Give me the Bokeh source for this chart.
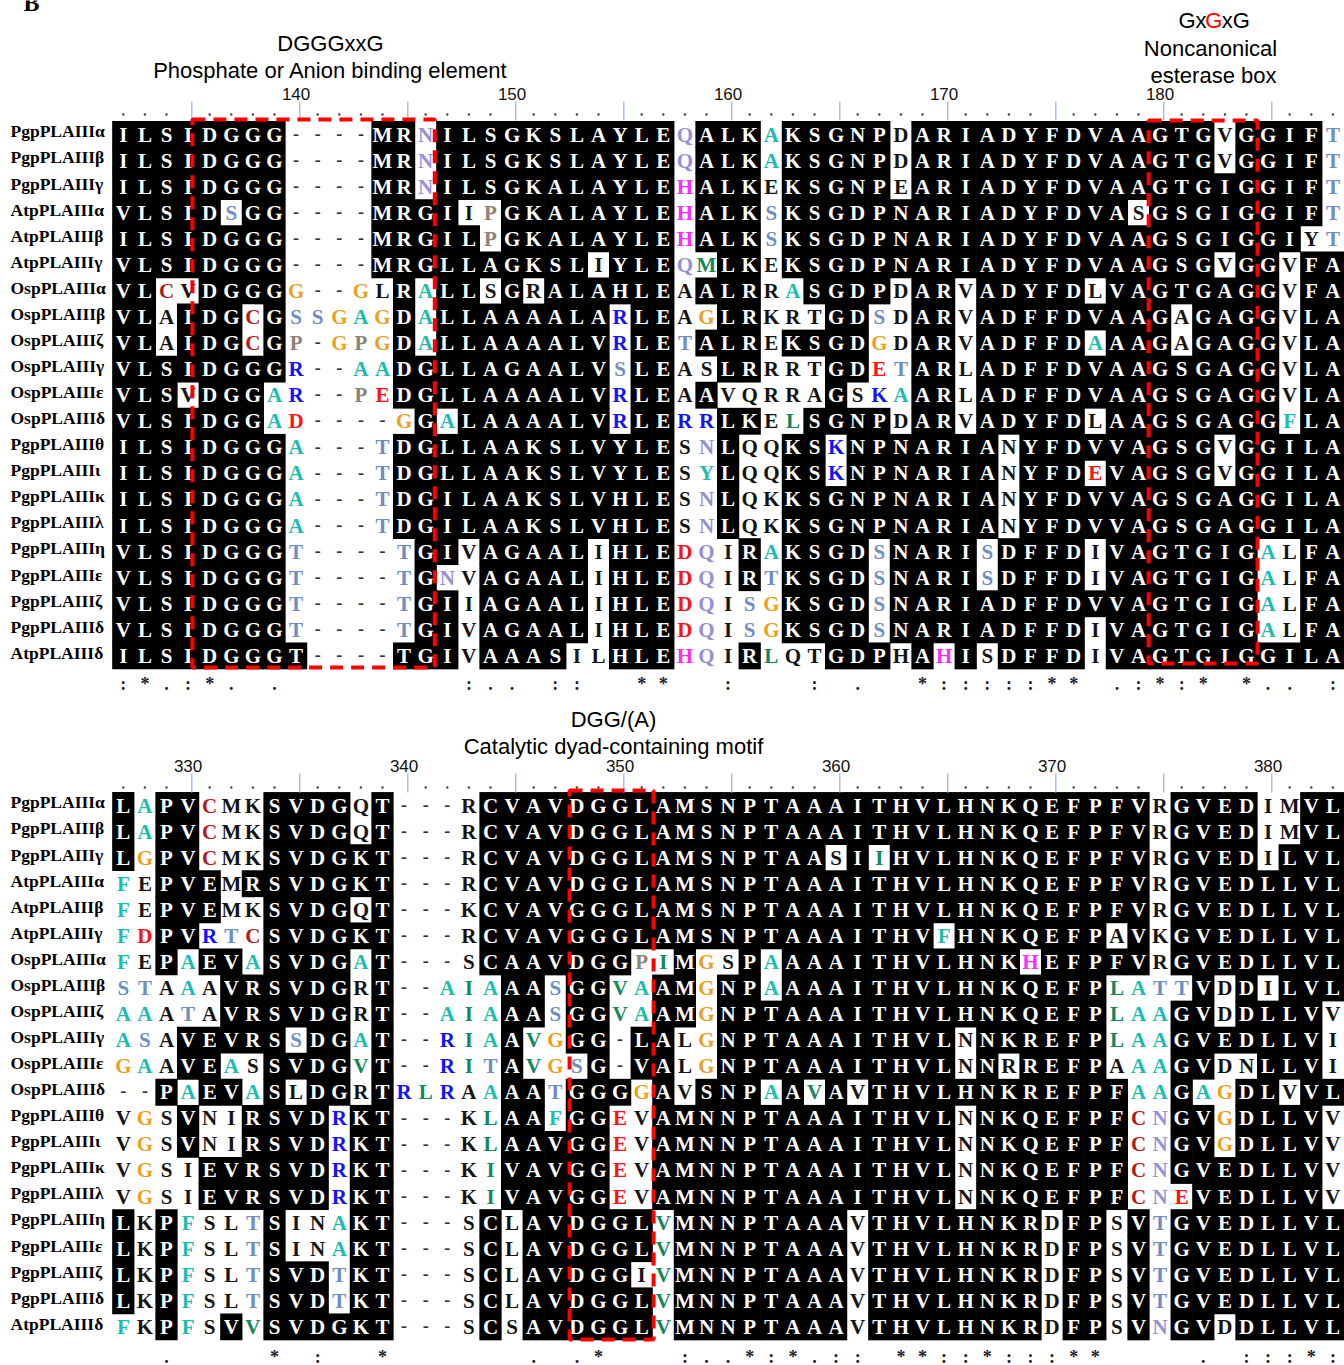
from bokeh.plotting import figure
from bokeh.models import ColumnDataSource, Range1d
from bokeh.core.properties import value
from bokeh.embed import file_html
from bokeh.resources import INLINE

# ---------------- data ----------------
names = ["PgpPLAIIIα", "PgpPLAIIIβ", "PgpPLAIIIγ", "AtpPLAIIIα", "AtpPLAIIIβ", "AtpPLAIIIγ",
         "OspPLAIIIα", "OspPLAIIIβ", "OspPLAIIIζ", "OspPLAIIIγ", "OspPLAIIIε", "OspPLAIIIδ",
         "PgpPLAIIIθ", "PgpPLAIIIι", "PgpPLAIIIκ", "PgpPLAIIIλ", "PgpPLAIIIη", "PgpPLAIIIε",
         "PgpPLAIIIζ", "PgpPLAIIIδ", "AtpPLAIIIδ"]

top_first_pos = 132
bottom_first_pos = 327
top_ticks = [140, 150, 160, 170, 180]
bottom_ticks = [330, 340, 350, 360, 370, 380]

top_seqs = [
    "ILSIDGGG----MRNILSGKSLAYLEQALKAKSGNPDARIADYFDVAAGTGVGGIFT",
    "ILSIDGGG----MRNILSGKSLAYLEQALKAKSGNPDARIADYFDVAAGTGVGGIFT",
    "ILSIDGGG----MRNILSGKALAYLEHALKEKSGNPEARIADYFDVAAGTGIGGIFT",
    "VLSIDSGG----MRGIIPGKALAYLEHALKSKSGDPNARIADYFDVASGSGIGGIFT",
    "ILSIDGGG----MRGILPGKALAYLEHALKSKSGDPNARIADYFDVAAGSGIGGIYT",
    "VLSIDGGG----MRGLLAGKSLIYLEQMLKEKSGDPNARIADYFDVAAGSGVGGVFA",
    "VLCVDGGGG--GLRALLSGRALAHLEAALRRASGDPDARVADYFDLVAGTGAGGVFA",
    "VLAIDGCGSSGAGDALLAAAALARLEAGLRKRTGDSDARVADFFDVAAGAGAGGVLA",
    "VLAIDGCGP-GPGDALLAAAALVRLETALREKSGDGDARVADFFDAAAGAGAGGVLA",
    "VLSIDGGGR--AADGLLAGAALVSLEASLRRRTGDETARLADFFDVAAGSGAGGVLA",
    "VLSVDGGAR--PEDGLLAAAALVRLEAAVQRRAGSKAARLADFFDVAAGSGAGGVLA",
    "VLSIDGGAD----GGALAAAALVRLERRLKELSGNPDARVADYFDLAAGSGAGGFLA",
    "ILSIDGGGA---TDGLLAAKSLVYLESNLQQKSKNPNARIANYFDVVAGSGVGGILA",
    "ILSIDGGGA---TDGLLAAKSLVYLESYLQQKSKNPNARIANYFDEVAGSGVGGILA",
    "ILSIDGGGA---TDGILAAKSLVHLESNLQKKSGNPNARIANYFDVVAGSGAGGILA",
    "ILSIDGGGA---TDGILAAKSLVHLESNLQKKSGNPNARIANYFDVVAGSGAGGILA",
    "VLSIDGGGT----TGIVAGAALIHLEDQIRAKSGDSNARISDFFDIVAGTGIGALFA",
    "VLSIDGGGT----TGNVAGAALIHLEDQIRTKSGDSNARISDFFDIVAGTGIGALFA",
    "VLSIDGGGT----TGIIAGAALIHLEDQISGKSGDSNARIADFFDVVAGTGIGALFA",
    "VLSIDGGGT----TGIVAGAALIHLEDQISGKSGDSNARIADFFDIVAGTGIGALFA",
    "ILSIDGGGT----TGIVAAASILHLEHQIRLQTGDPHAHISDFFDIVAGTGIGGILA",
]

# shading class per column: '#' = black box, otherwise letter colour class on white
top_shade = [
    "0-7# 8-11. 12-13# 14p 15-25# 26p 27-29# 30c 31-35# 36. 37-50# 51. 52-55# 56s",
    "0-7# 8-11. 12-13# 14p 15-25# 26p 27-29# 30c 31-35# 36. 37-50# 51. 52-55# 56s",
    "0-7# 8-11. 12-13# 14p 15-25# 26m 27-29# 30. 31-35# 36. 37-55# 56s",
    "0-4# 5s 6-7# 8-11. 12-15# 16. 17y 18-25# 26m 27-29# 30s 31-46# 47. 48-55# 56s",
    "0-7# 8-11. 12-16# 17y 18-25# 26m 27-29# 30s 31-54# 55. 56s",
    "0-7# 8-11. 12-21# 22. 23-25# 26p 27g 28-29# 30. 31-50# 51. 52-53# 54. 55-56#",
    "0-1# 2d 3. 4-7# 8o 9-10. 11o 12. 13# 14c 15-16# 17. 18# 19. 20-25# 26. 27-29# 30. 31c 32-35# 36. 37-38# 39. 40-44# 45. 46-53# 54. 55-56#",
    "0-1# 2. 3-5# 6d 7# 8s 9s 10o 11c 12o 13# 14c 15-22# 23b 24-25# 26. 27o 28-29# 30-32. 33-34# 35s 36. 37-38# 39. 40-48# 49. 50-53# 54. 55-56#",
    "0-1# 2. 3-5# 6d 7# 8y 9. 10o 11y 12o 13# 14c 15-22# 23b 24-25# 26s 27-29# 30. 31-34# 35o 36. 37-38# 39. 40-44# 45c 46-48# 49. 50-53# 54. 55-56#",
    "0-7# 8b 9-10. 11c 12c 13-22# 23s 24-25# 26. 27. 28-29# 30-32. 33-34# 35r 36s 37-38# 39. 40-53# 54. 55-56#",
    "0-2# 3. 4-6# 7c 8b 9-10. 11y 12r 13-22# 23b 24-25# 26. 27# 28-32. 33# 34. 35b 36c 37-38# 39. 40-53# 54. 55-56#",
    "0-6# 7c 8r 9-12. 13o 14# 15c 16-22# 23b 24-25# 26b 27b 28-29# 30. 31g 32-35# 36. 37-38# 39. 40-44# 45. 46-53# 54c 55-56#",
    "0-7# 8c 9-11. 12s 13-25# 26. 27p 28# 29-30. 31-32# 33b 34-40# 41. 42-50# 51. 52-56#",
    "0-7# 8c 9-11. 12s 13-25# 26. 27c 28# 29-30. 31-32# 33b 34-40# 41. 42-44# 45r 46-50# 51. 52-56#",
    "0-7# 8c 9-11. 12s 13-25# 26. 27p 28# 29-30. 31-40# 41. 42-56#",
    "0-7# 8c 9-11. 12s 13-25# 26. 27p 28# 29-30. 31-40# 41. 42-56#",
    "0-7# 8s 9-12. 13s 14-15# 16. 17-21# 22. 23-25# 26r 27p 28. 29# 30c 31-34# 35s 36-39# 40s 41-44# 45. 46-52# 53c 54. 55-56#",
    "0-7# 8s 9-12. 13s 14# 15p 16. 17-21# 22. 23-25# 26r 27p 28. 29# 30s 31-34# 35s 36-39# 40s 41-44# 45. 46-52# 53c 54. 55-56#",
    "0-7# 8s 9-12. 13s 14-15# 16. 17-21# 22. 23-25# 26r 27p 28. 29s 30o 31-34# 35s 36-52# 53c 54. 55-56#",
    "0-7# 8s 9-12. 13s 14-15# 16. 17-21# 22. 23-25# 26r 27p 28. 29s 30o 31-34# 35s 36-44# 45. 46-52# 53c 54. 55-56#",
    "0-15# 16. 17-20# 21-22. 23-25# 26m 27p 28. 29# 30g 31-32. 33-35# 36. 37# 38m 39# 40. 41-44# 45. 46-56#",
]

bottom_seqs = [
    "LAPVCMKSVDGQT---RCVAVDGGLAMSNPTAAAITHVLHNKQEFPFVRGVEDIMVL",
    "LAPVCMKSVDGQT---RCVAVDGGLAMSNPTAAAITHVLHNKQEFPFVRGVEDIMVL",
    "LGPVCMKSVDGKT---RCVAVDGGLAMSNPTAASIIHVLHNKQEFPFVRGVEDILVL",
    "FEPVEMRSVDGKT---RCVAVDGGLAMSNPTAAAITHVLHNKQEFPFVRGVEDLLVL",
    "FEPVEMKSVDGQT---KCVAVGGGLAMSNPTAAAITHVLHNKQEFPFVRGVEDLLVL",
    "FDPVRTCSVDGKT---RCVAVGGGLAMSNPTAAAITHVFHNKQEFPAVKGVEDLLVL",
    "FEPAEVASVDGAT---SCAAVDGGPIMGSPAAAAITHVLHNKHEFPFVRGVEDLLVL",
    "STAAAVRSVDGRT--AIAAASGGVAAMGNPAAAAITHVLHNKQEFPLATTVDDILVL",
    "AAATAVRSVDGRT--AIAAASGGVAAMGNPTAAAITHVLHNKQEFPLAAGVDDLLVV",
    "ASAVEVRSSDGAT--RIAAVGGG-LALGNPTAAAITHVLNNKREFPLAAGVEDLLVI",
    "GAAVEASSVDGVT--RITAVGSG-VALGNPTAAAITHVLNNRREFPAAAGVDNLLVI",
    "--PAEVASLDGRTRLRAAAATGGGGAVSNPAAVAVTHVLHNKREFPFAAGAGDLVVL",
    "VGSVNIRSVDRKT---KLAAFGGEVAMNNPTAAAITHVLNNKQEFPFCNGVGDLLVV",
    "VGSVNIRSVDRKT---KLAAVGGEVAMNNPTAAAITHVLNNKQEFPFCNGVGDLLVV",
    "VGSIEVRSVDRKT---KIVAVGGEVAMNNPTAAAITHVLNNKQEFPFCNGVEDLLVV",
    "VGSIEVRSVDRKT---KIVAVGGEVAMNNPTAAAITHVLNNKQEFPFCNEVEDLLVV",
    "LKPFSLTSINAKT---SCLAVDGGLVMNNPTAAAVTHVLHNKRDFPSVTGVEDLLVL",
    "LKPFSLTSINAKT---SCLAVDGGLVMNNPTAAAVTHVLHNKRDFPSVTGVEDLLVL",
    "LKPFSLTSVDTKT---SCLAVDGGIVMNNPTAAAVTHVLHNKRDFPSVTGVEDLLVL",
    "LKPFSLTSVDTKT---SCLAVDGGLVMNNPTAAAVTHVLHNKRDFPSVTGVEDLLVL",
    "FKPFSVVSVDGKT---SCSAVDGGLVMNNPTAAAVTHVLHNKRDFPSVNGVDDLLVL",
]

bottom_shade = [
    "0# 1c 2-3# 4d 5-6. 7-10# 11. 12# 13-16. 17-47# 48. 49-52# 53-54. 55-56#",
    "0# 1c 2-3# 4d 5-6. 7-10# 11. 12# 13-16. 17-47# 48. 49-52# 53-54. 55-56#",
    "0# 1o 2-3# 4d 5-6. 7-12# 13-16. 17-32# 33. 34# 35g 36-47# 48. 49-52# 53. 54-56#",
    "0c 1. 2-4# 5. 6-12# 13-16. 17-47# 48. 49-56#",
    "0c 1. 2-4# 5-6. 7-10# 11. 12# 13-16. 17-47# 48. 49-56#",
    "0c 1r 2-3# 4b 5s 6d 7-12# 13-16. 17-37# 38c 39-45# 46. 47# 48. 49-56#",
    "0c 1. 2# 3c 4-5# 6c 7-10# 11c 12# 13-16. 17-23# 24y 25g 26# 27o 28. 29# 30c 31-41# 42m 43-47# 48. 49-56#",
    "0s 1s 2. 3c 4. 5-10# 11. 12# 13-14. 15c 16g 17c 18-19# 20s 21-22# 23g 24c 25-26# 27o 28-29# 30c 31-45# 46g 47c 48-49s 50# 51. 52# 53. 54-56#",
    "0-1c 2. 3s 4. 5-10# 11. 12# 13-14. 15c 16g 17c 18-19# 20s 21-22# 23g 24c 25-26# 27o 28-45# 46g 47-48c 49-50# 51. 52-55# 56.",
    "0c 1s 2. 3-7# 8s 9-10# 11c 12# 13-14. 15b 16g 17c 18# 19g 20o 21-22# 23. 24-25# 26. 27o 28-38# 39. 40-45# 46g 47-48c 49-55# 56.",
    "0o 1c 2. 3-4# 5c 6. 7-10# 11g 12# 13-14. 15b 16g 17s 18# 19g 20o 21s 22# 23. 24-25# 26. 27o 28-38# 39. 40# 41. 42-45# 46. 47-48c 49-50# 51-52. 53-55# 56.",
    "0-1. 2# 3c 4-5# 6c 7# 8. 9-10# 11. 12# 13b 14g 15b 16. 17c 18-19# 20s 21-23# 24o 25# 26. 27-29# 30c 31# 32g 33# 34. 35-46# 47-48c 49# 50c 51o 52-53# 54. 55-56#",
    "0. 1o 2. 3# 4-5. 6-9# 10b 11-12# 13-16. 17g 18-19# 20c 21-22# 23r 24. 25-38# 39. 40-46# 47d 48p 49-50# 51o 52-55# 56.",
    "0. 1o 2. 3# 4-5. 6-9# 10b 11-12# 13-16. 17g 18-22# 23r 24. 25-38# 39. 40-46# 47d 48p 49-50# 51o 52-55# 56.",
    "0. 1o 2-3. 4-9# 10b 11-12# 13-16. 17g 18-22# 23r 24. 25-38# 39. 40-46# 47d 48p 49-55# 56.",
    "0. 1o 2-3. 4-9# 10b 11-12# 13-16. 17g 18-22# 23r 24. 25-38# 39. 40-46# 47d 48p 49r 50-55# 56.",
    "0# 1. 2# 3c 4-5. 6s 7# 8-9. 10c 11-12# 13-16. 17# 18. 19-24# 25g 26-33# 34. 35-42# 43. 44-45# 46. 47# 48s 49-56#",
    "0# 1. 2# 3c 4-5. 6s 7# 8-9. 10c 11-12# 13-16. 17# 18. 19-24# 25g 26-33# 34. 35-42# 43. 44-45# 46. 47# 48s 49-56#",
    "0# 1. 2# 3c 4-5. 6s 7-9# 10s 11-12# 13-16. 17# 18. 19-23# 24. 25g 26-33# 34. 35-42# 43. 44-45# 46. 47# 48s 49-56#",
    "0# 1. 2# 3c 4-5. 6s 7-9# 10s 11-12# 13-16. 17# 18. 19-24# 25g 26-33# 34. 35-42# 43. 44-45# 46. 47# 48s 49-56#",
    "0c 1. 2# 3c 4. 5# 6g 7-12# 13-16. 17# 18. 19-24# 25g 26-33# 34. 35-42# 43. 44-45# 46. 47# 48p 49-50# 51. 52-56#",
]

top_cons = ":*.:*. .        :.. ::  **  :   : .  *:::::** .:*:* *.. :"
bottom_cons = "  .    * :  *      . .*   :..*:*.:: **::*:::**    . :::*:"

# ---------------- layout constants (reference pixels) ----------------
W, H = 1344, 1365
CW, RH = 21.6, 26.07          # column width / row height in px
XC0, YC0 = 122.8, 134.0       # centre of first column / first row
BOT = (805.0 - YC0) / RH      # vertical offset (rows) of the lower block


def cx(px):
    return (px - XC0) / CW


def ry(py):
    return (py - YC0) / RH


COLORS = {'.': '#141414', 'c': '#1cbcae', 'o': '#eba11e', 'b': '#1212ff', 'r': '#ff1212',
          'm': '#ff2cff', 's': '#6c8ec2', 'p': '#9890d6', 'd': '#b51a1a', 'g': '#15875c',
          'y': '#8b8378'}


def parse_shade(spec, n):
    out = [None] * n
    for tok in spec.split():
        code, rng = tok[-1], tok[:-1]
        if '-' in rng:
            a, b = map(int, rng.split('-'))
        else:
            a = b = int(rng)
        for i in range(a, b + 1):
            out[i] = code
    assert all(o is not None for o in out), spec
    return out


p = figure(width=W, height=H, output_backend="svg", toolbar_location=None,
           x_range=Range1d(cx(0), cx(W)), y_range=Range1d(ry(H), ry(0)),
           min_border=0)
p.axis.visible = False
p.grid.visible = False
p.outline_line_color = None
p.background_fill_color = "white"
p.border_fill_color = "white"

bx, by = [], []
lx, ly, lt, lc = [], [], [], []
gx, gy = [], []
for seqs, shades, yoff in [(top_seqs, top_shade, 0.0), (bottom_seqs, bottom_shade, BOT)]:
    for r, (seq, spec) in enumerate(zip(seqs, shades)):
        assert len(seq) == 57, (seq, len(seq))
        sh = parse_shade(spec, len(seq))
        for c, (ch, code) in enumerate(zip(seq, sh)):
            y = yoff + r
            if ch == '-':
                gx.append(c); gy.append(y)
                continue
            if code == '#':
                bx.append(c); by.append(y)
                lx.append(c); ly.append(y); lt.append(ch); lc.append("white")
            else:
                lx.append(c); ly.append(y); lt.append(ch); lc.append(COLORS[code])

p.rect(x=bx, y=by, width=1.03, height=1.03, fill_color="black", line_color=None)
p.text(x="x", y="y", text="t", text_color="c",
       source=ColumnDataSource(dict(x=lx, y=ly, t=lt, c=lc)),
       text_font=value("Liberation Serif"), text_font_style="bold", text_font_size="21px",
       text_align="center", text_baseline="middle")
p.text(x=gx, y=[g - 0.05 for g in gy], text=["-"] * len(gx), text_color="#333333",
       text_font=value("Liberation Serif"), text_font_style="bold", text_font_size="18px",
       text_align="center", text_baseline="middle")

# sequence names
for yoff in (0.0, BOT):
    p.text(x=[cx(10)] * len(names), y=[yoff + i - 0.12 for i in range(len(names))], text=names,
           text_color="black", text_font=value("Liberation Serif"), text_font_style="bold",
           text_font_size="17.5px", text_align="left", text_baseline="middle")

# rulers
for first, ticks, ylab, ydot, yl0, yl1 in [
        (top_first_pos, top_ticks, ry(93), ry(114), ry(101), ry(120)),
        (bottom_first_pos, bottom_ticks, ry(765), ry(787), ry(773), ry(792))]:
    p.text(x=[t - first for t in ticks], y=[ylab] * len(ticks), text=[str(t) for t in ticks],
           text_color="#111111", text_font=value("Liberation Sans"), text_font_size="17px",
           text_align="center", text_baseline="middle")
    five = [c for c in range(57) if (first + c) % 5 == 0]
    others = [c for c in range(57) if (first + c) % 5 != 0]
    p.segment(x0=[c + 0.17 for c in five], x1=[c + 0.17 for c in five], y0=[yl0] * len(five),
              y1=[yl1] * len(five), line_color="#a9c0ea", line_width=1.5)
    p.scatter(x=others, y=[ydot] * len(others), size=2.4, marker="circle",
              fill_color="#444444", line_color=None)

# conservation lines
for cons, ybase in [(top_cons, ry(683)), (bottom_cons, ry(1356))]:
    assert len(cons) == 57
    xs = [i for i, s in enumerate(cons) if s != ' ']
    p.text(x=xs, y=[ybase] * len(xs), text=[cons[i] for i in xs], text_color="#1c1c2c",
           text_font=value("Liberation Serif"), text_font_style="bold", text_font_size="18px",
           text_align="center", text_baseline="alphabetic")

# motif boxes (red dashed)
p.quad(left=[3.20, 47.47, 20.66], right=[14.42, 52.51, 24.55],
       top=[ry(119), ry(120), ry(790)], bottom=[ry(667), ry(663), ry(1339)],
       fill_color=None, line_color="#ff0000", line_width=4, line_dash="13 8")

# titles
sans = value("Liberation Sans")
p.text(x=[cx(330), cx(330), cx(1210), cx(1213), cx(613), cx(613)],
       y=[ry(43), ry(70), ry(48), ry(75), ry(719), ry(746)],
       text=["DGGGxxG", "Phosphate or Anion binding element", "Noncanonical", "esterase box",
             "DGG/(A)", "Catalytic dyad-containing motif"],
       text_color="black", text_font=sans, text_font_size="22px",
       text_align="center", text_baseline="middle")
p.text(x=[cx(1178), cx(1204.8), cx(1221.2)], y=[ry(20)] * 3, text=["Gx", "G", "xG"],
       text_color=["black", "#ff0000", "black"], text_font=sans, text_font_size="22px",
       text_align="left", text_baseline="middle")
p.text(x=[cx(31)], y=[ry(2)], text=["B"], text_color="black",
       text_font=value("Liberation Serif"), text_font_style="bold", text_font_size="24px",
       text_align="center", text_baseline="alphabetic")

open("out.html", "w").write(file_html(p, INLINE))
